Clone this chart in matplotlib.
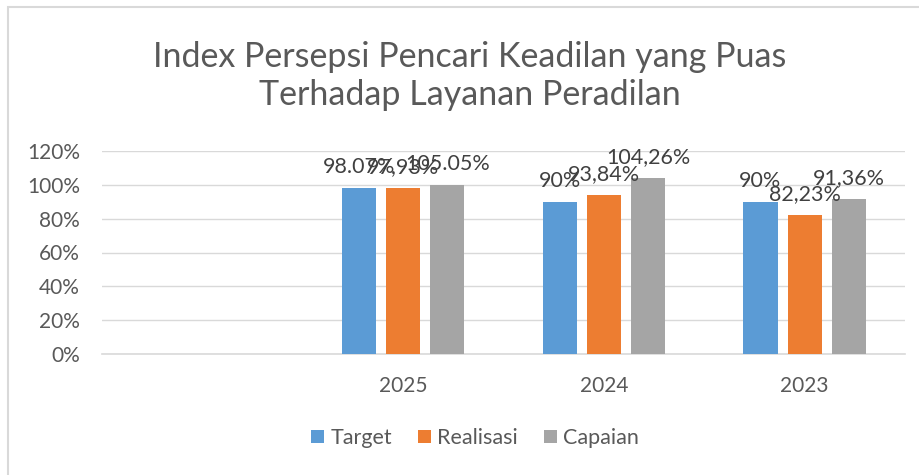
import matplotlib
matplotlib.use("Agg")
from matplotlib import pyplot as plt
from matplotlib.patches import Rectangle
import numpy as np

plt.rcParams['font.family'] = ['Lato', 'DejaVu Sans']

categories = ['', '2025', '2024', '2023']
target = [np.nan, 98.07, 90, 90]
realisasi = [np.nan, 97.93, 93.84, 82.23]
capaian = [np.nan, 99.86, 104.26, 91.36]
target_labels = ['', '98.07%', '90%', '90%']
realisasi_labels = ['', '97,93%', '93,84%', '82,23%']
capaian_labels = ['', '105.05%', '104,26%', '91,36%']

series = [
    ('Target', target, target_labels, '#5B9BD5'),
    ('Realisasi', realisasi, realisasi_labels, '#ED7D31'),
    ('Capaian', capaian, capaian_labels, '#A5A5A5'),
]

txt = '#595959'
fig = plt.figure(figsize=(9.2, 4.75), dpi=100)
fig.patches.append(Rectangle((8 / 920, -0.1), 1.2, (475 - 7) / 475 + 0.1,
                             transform=fig.transFigure, fill=False,
                             edgecolor='#D9D9D9', linewidth=1.5))
ax = fig.add_axes([102 / 920, 1 - 354 / 475, 803 / 920, 203 / 475])

x = np.arange(len(categories))
w = 0.17
step = 0.22
for i, (name, vals, labs, col) in enumerate(series):
    xs = x + (i - 1) * step
    ax.bar(xs, vals, w, color=col, label=name, zorder=3)
    for xi, v, lab in zip(xs, vals, labs):
        if lab:
            ax.text(xi, v + 6.5, lab, ha='center', va='bottom',
                    fontsize=15.5, color='#404040', zorder=4)

ax.set_xlim(-0.5, 3.5)
ax.set_ylim(0, 120)
ax.set_yticks(range(0, 121, 20))
ax.set_yticklabels([f'{t}%' for t in range(0, 121, 20)])
ax.set_xticks(x)
ax.set_xticklabels(categories)
ax.grid(axis='y', color='#D9D9D9', linewidth=1, zorder=0)
for s in ['top', 'right', 'left']:
    ax.spines[s].set_visible(False)
ax.spines['bottom'].set_color('#D9D9D9')
ax.spines['bottom'].set_linewidth(1.2)
ax.tick_params(axis='both', length=0, labelsize=15, colors=txt)
ax.tick_params(axis='x', pad=16)
ax.tick_params(axis='y', pad=16)

fig.text(470 / 920, 1 - 76 / 475,
         'Index Persepsi Pencari Keadilan yang Puas\nTerhadap Layanan Peradilan',
         ha='center', va='center', fontsize=24.5, color=txt, linespacing=1.2)

ax.legend(loc='center', bbox_to_anchor=(475 / 920, 1 - 438 / 475),
          bbox_transform=fig.transFigure, ncol=3, frameon=False,
          fontsize=15.5, labelcolor=txt, handlelength=0.6, handleheight=0.6,
          handletextpad=0.3, columnspacing=1.2)

fig.savefig('out.png', dpi=100, facecolor='white')
